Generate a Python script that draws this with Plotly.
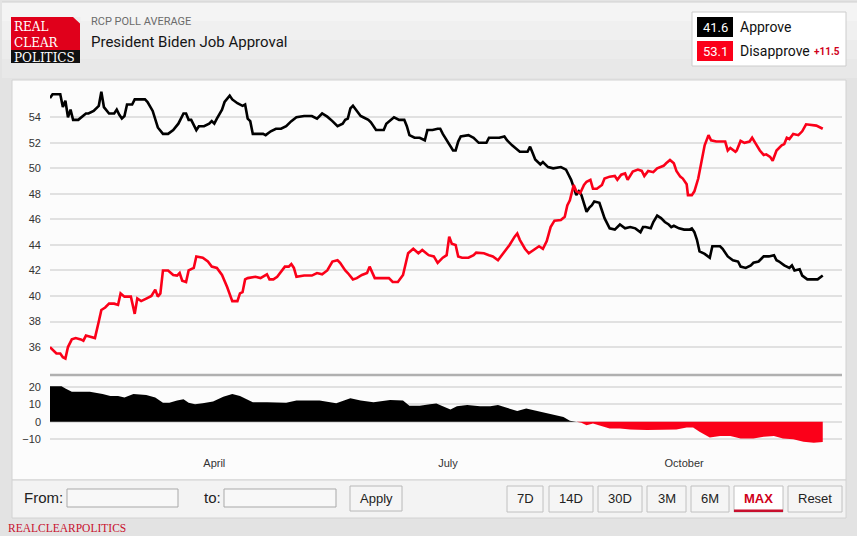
import plotly.graph_objects as go
import pandas as pd

# series start date (first point of the RCP average)
start = pd.Timestamp("2021-01-27")

# approve: day offset from start, value
approve_day = [0, 1, 4, 5, 6, 7, 8, 9, 11, 14, 15, 17, 19, 20, 21, 23, 25, 26, 27, 28, 29, 30, 32, 33, 37,
               38, 40, 41, 42, 44, 46, 48, 50, 52, 53, 54, 55, 57, 58, 60, 62, 63, 64, 65, 67, 68, 70, 71,
               73, 75, 76, 77, 78, 79, 81, 83, 84, 86, 88, 90, 92, 94, 96, 99, 102, 104, 106, 108, 110,
               112, 114, 115, 116, 117, 118, 119, 121, 122, 124, 125, 127, 130, 131, 134, 136, 138, 139,
               140, 142, 144, 146, 147, 149, 151, 152, 153, 155, 157, 158, 159, 160, 163, 165, 167, 170,
               171, 173, 175, 177, 178, 180, 183, 186, 187, 188, 189, 191, 192, 194, 196, 199, 201, 202,
               203, 205, 206, 207, 209, 210, 211, 212, 214, 215, 216, 218, 220, 222, 224, 226, 228, 230,
               231, 232, 234, 235, 236.5, 238, 239.5, 241, 242, 243, 245, 247, 249, 250, 251, 252, 253,
               255, 257, 258, 261, 262, 264, 266, 268, 269, 271, 273, 274, 276, 278, 280, 282, 283, 284,
               286, 288, 289, 290, 292, 293, 295, 299, 301]
approve_val = [55.5, 55.8, 55.8, 54.8, 55.3, 54.0, 54.6, 53.8, 53.8, 54.3, 54.3, 54.5, 54.9, 56.0, 54.8,
               54.3, 54.3, 54.6, 54.2, 53.9, 54.1, 55.0, 55.0, 55.4, 55.4, 55.2, 54.5, 53.9, 53.2, 52.7,
               52.7, 53.0, 53.5, 54.3, 54.3, 53.8, 53.8, 53.0, 53.3, 53.3, 53.5, 53.7, 53.5, 53.9, 54.6,
               55.2, 55.7, 55.4, 55.1, 54.9, 55.0, 53.9, 53.7, 52.7, 52.7, 52.7, 52.6, 52.9, 53.1, 53.1,
               53.3, 53.7, 54.0, 54.1, 54.1, 53.9, 54.3, 54.05, 53.7, 53.3, 53.5, 53.8, 53.9, 54.7, 54.9,
               54.6, 54.1, 54.0, 53.8, 53.6, 53.0, 53.0, 53.5, 54.0, 53.8, 53.8, 53.3, 52.6, 52.4, 52.4,
               52.2, 53.0, 53.0, 53.1, 53.1, 52.7, 52.0, 51.4, 51.4, 52.1, 52.5, 52.6, 52.4, 52.0, 52.0,
               52.4, 52.4, 52.4, 52.5, 52.2, 51.8, 51.3, 51.3, 51.7, 51.2, 50.7, 50.3, 50.5, 50.1, 50.0,
               50.1, 49.9, 49.5, 49.1, 47.9, 48.2, 47.9, 46.6, 46.9, 47.1, 47.4, 47.3, 46.7, 46.1, 45.3,
               45.2, 45.6, 45.3, 45.4, 45.3, 45.0, 45.4, 45.4, 45.3, 45.8, 46.3, 46.1, 45.8, 45.6, 45.4,
               45.5, 45.3, 45.2, 45.2, 45.3, 45.0, 44.4, 43.5, 43.3, 43.0, 43.9, 43.9, 43.7, 43.1, 42.8,
               42.7, 42.3, 42.2, 42.4, 42.6, 42.7, 43.1, 43.1, 43.2, 42.8, 42.7, 42.4, 42.2, 42.4, 42.0,
               42.1, 41.6, 41.3, 41.3, 41.6]

# disapprove: day offset from start, value
disapprove_day = [0, 1, 2.5, 4, 5, 6, 7, 8.5, 10, 12, 13, 14, 16, 17.5, 19, 20, 21.5, 23, 25, 26.5, 27.5,
                  29, 31.5, 33, 34, 35.5, 37.5, 39.5, 41, 42, 43, 44, 46, 48, 49.5, 50.5, 51.5, 53, 54,
                  56, 57, 59.5, 61.5, 63, 65, 67, 69, 71, 73, 74, 75, 76, 77, 80, 82, 83, 84.5, 85.5, 87,
                  88.5, 90, 91.5, 93, 94, 95, 96, 99, 102, 104, 106, 108, 110, 112, 113, 115, 116, 118,
                  119.5, 121.5, 123.5, 124.5, 126.5, 132, 133.5, 135.5, 137.5, 139.5, 141.5, 143.5, 145,
                  147.5, 149.5, 151, 153, 154.5, 155.5, 156.5, 158, 159, 160.5, 163, 165, 166, 169, 171,
                  172.5, 174.5, 176, 177.5, 179, 181, 182, 183, 185, 186.5, 189, 190.5, 192, 193.5, 195,
                  196.5, 199, 200.5, 201.5, 202.5, 204, 205, 206.5, 208, 209, 210.5, 211.5, 213, 215, 216,
                  218, 220, 221, 222.5, 224, 225, 227, 229, 230.5, 231.5, 233, 235, 236.5, 239, 240,
                  241.5, 243, 244, 245.5, 246.5, 248, 248.5, 250, 251, 252.5, 254, 255, 256.5, 257.5,
                  259.5, 263, 264, 265, 267, 267.5, 269, 270.5, 272.5, 273.5, 275, 276.5, 278, 279, 280.5,
                  281.5, 283, 285, 286, 287, 288, 289.5, 291.5, 293, 294.5, 296.5, 298.5, 301]
disapprove_val = [36.0, 35.8, 35.5, 35.5, 35.2, 35.1, 36.0, 36.6, 36.7, 36.6, 36.5, 36.9, 36.8, 36.7, 38.0,
                  38.9, 39.1, 39.4, 39.4, 39.3, 40.2, 39.95, 39.95, 38.6, 39.8, 39.6, 39.8, 40.0, 40.5,
                  39.95, 40.2, 42.0, 42.0, 41.65, 41.6, 41.8, 41.2, 41.1, 42.0, 42.2, 43.1, 43.0, 42.7,
                  42.3, 42.2, 41.65, 40.7, 39.6, 39.6, 40.2, 40.3, 41.3, 41.4, 41.5, 41.4, 41.5, 41.7,
                  41.3, 41.3, 41.5, 41.9, 42.3, 42.3, 42.5, 42.2, 41.5, 41.6, 41.6, 41.8, 41.7, 42.0, 42.7,
                  42.8, 42.6, 42.0, 41.8, 41.3, 41.4, 41.65, 41.8, 42.3, 41.4, 41.4, 41.1, 41.1, 41.65,
                  43.35, 43.7, 43.35, 43.6, 43.2, 43.1, 42.6, 43.0, 43.2, 44.65, 44.1, 44.0, 43.1, 43.0,
                  43.0, 43.2, 43.4, 43.35, 43.2, 43.1, 42.8, 43.2, 43.6, 44.0, 44.65, 44.9, 44.4, 43.7,
                  43.35, 43.7, 43.9, 43.7, 44.3, 45.4, 45.9, 45.95, 46.2, 47.1, 47.5, 48.7, 48.2, 48.05,
                  48.7, 48.95, 49.1, 48.4, 48.4, 48.7, 49.2, 49.35, 49.4, 49.1, 49.5, 49.6, 49.1, 49.75,
                  49.9, 49.8, 49.4, 49.8, 49.7, 50.0, 50.2, 50.4, 50.65, 50.4, 49.8, 49.35, 49.2, 48.75,
                  47.9, 47.9, 48.2, 49.2, 50.65, 51.8, 52.6, 52.2, 52.1, 52.1, 51.4, 51.6, 51.3, 51.4,
                  52.15, 52.0, 52.1, 52.4, 51.9, 51.4, 51.05, 51.1, 50.9, 50.6, 51.4, 51.8, 51.9, 52.4,
                  52.3, 52.7, 52.6, 52.9, 53.45, 53.4, 53.35, 53.1]

# spread (approve - disapprove)
spread_day = [0, 4.5, 6, 8.5, 15.5, 18, 20.5, 23.5, 26.5, 29, 32.5, 37.5, 41, 44, 46.5, 49.5, 52, 54,
              56.5, 59.5, 63.5, 67.5, 71, 74, 76.5, 79, 84.5, 92, 96, 105, 111.5, 117, 121, 126, 132.5,
              137.5, 140, 144, 148, 150.5, 153, 156, 158.5, 162.5, 167.5, 171.5, 174.5, 178, 182, 185.5,
              189.5, 193, 196.5, 200, 202.5, 205, 207, 209, 211.5, 214, 218, 222, 226, 232.5, 239, 244,
              248, 250.5, 253, 257, 261, 265, 269, 274, 278, 282, 285.5, 289.5, 293.5, 297.5, 301]
spread_val = [20.3, 20.3, 19.0, 17.1, 17.1, 16.6, 15.8, 14.7, 14.7, 13.9, 15.8, 15.3, 13.9, 10.9, 10.9,
              12.1, 12.8, 10.9, 10.0, 10.6, 11.5, 14.3, 15.8, 14.7, 12.8, 11.1, 11.1, 10.9, 12.1, 12.1,
              10.6, 13.4, 12.1, 11.1, 12.4, 12.1, 9.1, 9.1, 10.0, 10.4, 8.9, 7.0, 8.9, 9.5, 8.9, 8.9, 9.5,
              8.1, 6.2, 7.6, 6.2, 5.1, 3.8, 2.8, 0.6, 0.0, -0.6, -1.9, -0.9, -1.9, -3.8, -3.8, -4.4, -4.7,
              -4.4, -4.4, -3.3, -3.3, -5.7, -8.9, -8.1, -8.1, -9.5, -9.5, -8.5, -8.1, -9.5, -10.0, -11.4,
              -11.9, -11.5]

main_ticks = [36, 38, 40, 42, 44, 46, 48, 50, 52, 54]
spread_ticks = [-10, 0, 10, 20]
month_ticks = ["2021-04-01", "2021-07-01", "2021-10-01"]
month_labels = ["April", "July", "October"]

latest_approve = "41.6"
latest_disapprove = "53.1"
latest_spread = "+11.5"
range_buttons = ["7D", "14D", "30D", "3M", "6M", "MAX", "Reset"]

RED = "#fb0019"
BLACK = "#000000"
W, H = 857, 536


def px(x):
    return x / W


def py(y):
    return 1 - y / H


def dates(days):
    return [start + pd.Timedelta(days=d) for d in days]


x_range = [start, start + pd.Timedelta(days=308.5)]

fig = go.Figure()

fig.add_trace(go.Scatter(x=dates(approve_day), y=approve_val, mode="lines",
                         line=dict(color=BLACK, width=2.6), xaxis="x", yaxis="y",
                         name="Approve", hoverinfo="skip"))
fig.add_trace(go.Scatter(x=dates(disapprove_day), y=disapprove_val, mode="lines",
                         line=dict(color=RED, width=2.6), xaxis="x", yaxis="y",
                         name="Disapprove", hoverinfo="skip"))

# spread area: black above zero, red below
fig.add_trace(go.Scatter(x=dates(spread_day), y=[max(v, 0) for v in spread_val], mode="lines",
                         line=dict(width=0, color=BLACK), fill="tozeroy", fillcolor=BLACK,
                         xaxis="x2", yaxis="y2", hoverinfo="skip"))
fig.add_trace(go.Scatter(x=dates(spread_day), y=[min(v, 0) for v in spread_val], mode="lines",
                         line=dict(width=0, color=RED), fill="tozeroy", fillcolor=RED,
                         xaxis="x2", yaxis="y2", hoverinfo="skip"))

shapes = []
annotations = []


def rect(x0, y0, x1, y1, fill, line=None, lw=1):
    shapes.append(dict(type="rect", xref="paper", yref="paper", layer="below",
                       x0=px(x0), x1=px(x1), y0=py(y1), y1=py(y0), fillcolor=fill,
                       line=dict(color=line or fill, width=lw if line else 0)))


def text(x, y, s, size, color="#222", family="Liberation Sans", anchor="left"):
    annotations.append(dict(x=px(x), y=py(y), xref="paper", yref="paper", text=s, showarrow=False,
                            xanchor=anchor, yanchor="middle", align="left",
                            font=dict(size=size, color=color, family=family)))


# header band (fake gradient)
for i, c in enumerate(["#f4f4f4", "#f0f0f0", "#ececec", "#e8e8e8"]):
    rect(2, 2 + i * 19, 857, 2 + (i + 1) * 19, c)
shapes.append(dict(type="line", xref="paper", yref="paper", x0=px(2), x1=px(857), y0=py(2), y1=py(2),
                   line=dict(color="#d0d0d0", width=1)))

# white chart panel and control strip
rect(12, 80, 846, 480, "#fcfcfc", "#d2d2d2")
rect(12, 480, 846, 518, "#f3f3f3", "#d2d2d2")

# logo
rect(11, 17, 80, 63, "#e0001b")
rect(11, 50, 80, 63, "#111111")
shapes.append(dict(type="path", xref="paper", yref="paper", layer="above",
                   path=f"M {px(73)} {py(17)} L {px(80.5)} {py(17)} L {px(80.5)} {py(24)} Z",
                   fillcolor="#ededed", line=dict(width=0)))
text(12, 42.5, "REAL<br>CLEAR<br>POLITICS", 12, "white", "DejaVu Serif")

text(89, 22, "RCP POLL AVERAGE", 11, "#6b6b6b", "Roboto")
text(89, 42, "President Biden Job Approval", 15, "#151515", "Roboto")

# latest values box
rect(692, 12, 846, 66, "#ffffff", "#cccccc")
rect(697, 17, 733, 37, BLACK)
rect(697, 41, 733, 61, RED)
text(715, 27, latest_approve, 13, "white", "Roboto", "center")
text(715, 51, latest_disapprove, 13, "white", "Roboto", "center")
text(738, 27, "Approve", 14, "#111", "Roboto")
text(738, 51, "Disapprove", 14, "#111", "Roboto")
annotations.append(dict(x=px(842), y=py(52), xref="paper", yref="paper", text="<b>" + latest_spread + "</b>",
                        showarrow=False, xanchor="right", yanchor="middle",
                        font=dict(size=10, color="#d0001a", family="Roboto")))

# separator between panels
shapes.append(dict(type="line", xref="paper", yref="paper", x0=px(50), x1=px(842), y0=py(375), y1=py(375),
                   line=dict(color="#b0b0b0", width=2.5)))

# controls
text(22, 497, "From:", 15, "#222")
rect(67, 489, 178, 507, "#f8f8f8", "#a9a9a9")
text(202, 497, "to:", 15, "#222")
rect(224, 489, 336, 507, "#f8f8f8", "#a9a9a9")
rect(350, 486, 402, 511, "#f5f5f5", "#b8b8b8")
text(376, 498, "Apply", 13, "#222", anchor="center")

button_x = [(507, 543), (549, 593), (598, 642), (647, 686), (691, 729), (734, 783), (788, 842)]
for label, (x0, x1) in zip(range_buttons, button_x):
    active = label == "MAX"
    rect(x0, 486, x1, 512, "#ffffff" if active else "#f5f5f5", "#c0c0c0")
    if active:
        rect(x0, 509.5, x1, 512, "#c8102e")
        annotations.append(dict(x=px((x0 + x1) / 2), y=py(498), xref="paper", yref="paper",
                                text="<b>" + label + "</b>", showarrow=False, xanchor="center",
                                yanchor="middle", font=dict(size=13, color="#d0001a",
                                                            family="Liberation Sans")))
    else:
        text((x0 + x1) / 2, 498, label, 13, "#222", anchor="center")

text(6, 528, "REALCLEARPOLITICS", 11.5, "#c8102e", "Liberation Serif")

tick_font = dict(size=11, color="#333333", family="Liberation Sans")
fig.update_layout(
    width=W, height=H,
    margin=dict(l=0, r=0, t=0, b=0),
    paper_bgcolor="#e3e3e3",
    plot_bgcolor="rgba(0,0,0,0)",
    showlegend=False,
    shapes=shapes,
    annotations=annotations,
    xaxis=dict(domain=[px(50), px(842)], range=x_range, anchor="y", showticklabels=False,
               showgrid=False, zeroline=False, showline=False, ticks=""),
    yaxis=dict(domain=[py(375), py(85)], range=[33.81, 56.53], tickvals=main_ticks, anchor="x",
               gridcolor="#e1e1e1", gridwidth=1.5, zeroline=False, showline=False, ticks="",
               tickfont=tick_font, ticklabelstandoff=8),
    xaxis2=dict(domain=[px(50), px(842)], range=x_range, anchor="y2", tickvals=month_ticks,
                ticktext=month_labels, showgrid=False, zeroline=False, showline=False, ticks="",
                tickfont=tick_font),
    yaxis2=dict(domain=[py(455), py(377)], range=[-18.9, 25.5], tickvals=spread_ticks, anchor="x2",
                gridcolor="#e1e1e1", gridwidth=1.5, zeroline=False, showline=False, ticks="",
                tickfont=tick_font, ticklabelstandoff=8),
)

# page body has a default 8px margin; drop it so the figure fills the window
fig.write_html("out.html", config={"displayModeBar": False},
               post_script="document.body.style.margin='0px';")
